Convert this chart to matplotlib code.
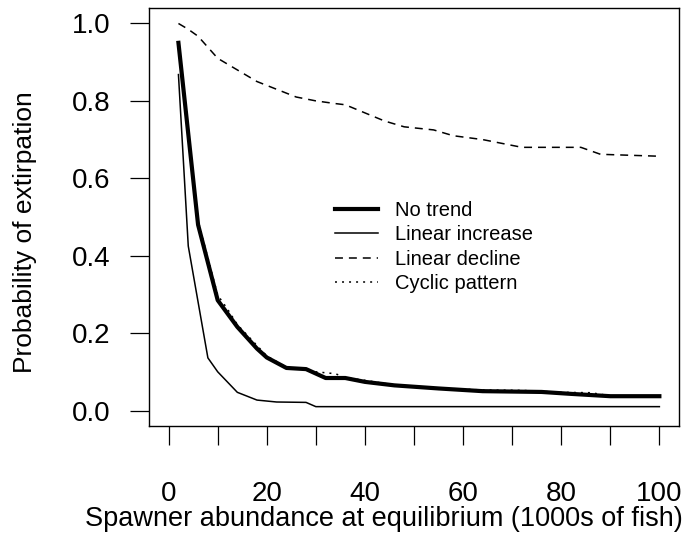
import numpy as np
import matplotlib
matplotlib.use("Agg")
import matplotlib.pyplot as plt

plt.rcParams['font.family'] = ['Liberation Sans', 'DejaVu Sans']

# --- values (x = spawner abundance, 1000s of fish) ---
x_no_trend = [2, 6, 10, 14, 18, 20, 24, 28, 32, 36, 40, 46, 55, 64, 76, 82, 90, 100]
y_no_trend = [0.950, 0.480, 0.285, 0.216, 0.160, 0.137, 0.110, 0.107, 0.084, 0.084,
              0.074, 0.065, 0.057, 0.050, 0.048, 0.043, 0.037, 0.037]

x_increase = [2, 4, 8, 10, 14, 18, 22, 28, 30, 100]
y_increase = [0.868, 0.425, 0.136, 0.100, 0.047, 0.027, 0.022, 0.021, 0.010, 0.010]

x_decline = [2, 4, 6, 10, 12, 18, 20, 26, 30, 34, 36, 44, 48, 54, 58, 64, 68, 72, 84, 88, 100]
y_decline = [1.000, 0.985, 0.967, 0.910, 0.895, 0.850, 0.840, 0.810, 0.800, 0.793, 0.790,
             0.748, 0.733, 0.725, 0.710, 0.700, 0.690, 0.680, 0.680, 0.662, 0.657]

x_cyclic = [2, 6, 10, 12, 14, 20, 24, 28, 30, 34, 36, 40, 46, 52, 64, 72, 80, 86, 90, 100]
y_cyclic = [0.950, 0.490, 0.298, 0.262, 0.222, 0.141, 0.112, 0.108, 0.100, 0.095, 0.085,
            0.078, 0.066, 0.060, 0.053, 0.052, 0.047, 0.046, 0.038, 0.037]

x_ticks = [0, 10, 20, 30, 40, 50, 60, 70, 80, 90, 100]
x_tick_labels = ['0', '', '20', '', '40', '', '60', '', '80', '', '100']
y_ticks = [0.0, 0.2, 0.4, 0.6, 0.8, 1.0]

fig = plt.figure(figsize=(6.91, 5.37), dpi=100)
ax = fig.add_axes([149 / 691, 111 / 537, 530 / 691, 418 / 537])

ax.plot(x_no_trend, y_no_trend, color='black', lw=3.0, label='No trend',
        solid_joinstyle='round', zorder=3)
ax.plot(x_increase, y_increase, color='black', lw=1.1, label='Linear increase')
ax.plot(x_decline, y_decline, color='black', lw=1.1, linestyle=(0, (5.2, 3.9)),
        label='Linear decline')
ax.plot(x_cyclic, y_cyclic, color='black', lw=1.1, linestyle=(0, (1.3, 3.3)),
        label='Cyclic pattern', zorder=2)

ax.set_xlim(-4, 104)
ax.set_ylim(-0.04, 1.04)
ax.set_xticks(x_ticks)
ax.set_xticklabels(x_tick_labels)
ax.set_yticks(y_ticks)
ax.set_yticklabels([f'{v:.1f}' for v in y_ticks])

for s in ax.spines.values():
    s.set_linewidth(1.0)
ax.tick_params(axis='both', direction='out', length=13.7, width=0.9, labelsize=20)
ax.tick_params(axis='x', pad=26)
ax.tick_params(axis='y', pad=14)

ax.set_xlabel('Spawner abundance at equilibrium (1000s of fish)', fontsize=19.5)
ax.xaxis.set_label_coords(0.4425, -0.192)
ax.set_ylabel('Probability of extirpation', fontsize=19, va='center')
ax.yaxis.set_label_coords(-0.234, 0.464)

ax.legend(loc='upper left', bbox_to_anchor=(0.351, 0.538), frameon=False,
          fontsize=14.5, handlelength=2.15, handletextpad=0.85, labelspacing=0.26,
          borderpad=0, borderaxespad=0)

fig.savefig('out.png', dpi=100)
